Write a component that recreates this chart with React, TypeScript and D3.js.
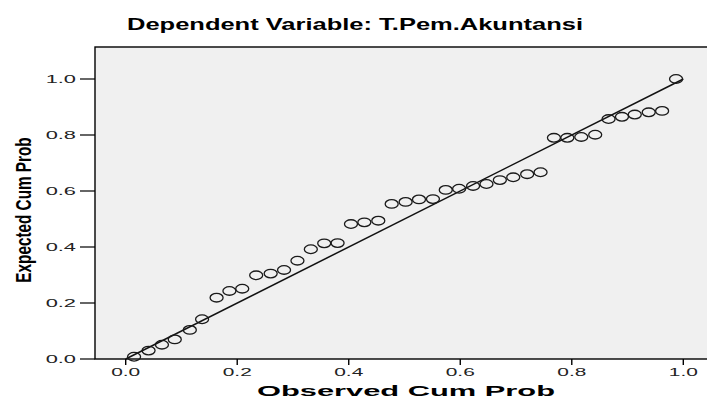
import { useRef, useEffect } from 'react';
import { select, scaleLinear } from 'd3';

// observed cum prob (x) and expected cum prob (y)
const observed = [0.015, 0.041, 0.065, 0.088, 0.115, 0.137, 0.163, 0.186, 0.209, 0.234,
    0.260, 0.284, 0.308, 0.332, 0.356, 0.380, 0.404, 0.428, 0.453, 0.477,
    0.502, 0.526, 0.551, 0.574, 0.598, 0.623, 0.647, 0.671, 0.695, 0.720,
    0.744, 0.768, 0.792, 0.817, 0.842, 0.866, 0.890, 0.913, 0.938, 0.962, 0.987];
const expected = [0.008, 0.030, 0.051, 0.070, 0.104, 0.142, 0.219, 0.243, 0.251, 0.299,
    0.305, 0.318, 0.351, 0.392, 0.413, 0.414, 0.482, 0.488, 0.494, 0.554,
    0.561, 0.570, 0.571, 0.604, 0.608, 0.618, 0.625, 0.639, 0.649, 0.660,
    0.667, 0.790, 0.790, 0.793, 0.801, 0.857, 0.865, 0.873, 0.881, 0.886, 1.0];
const ticks = [0, 0.2, 0.4, 0.6, 0.8, 1.0];
const tickLabels = ['0.0', '0.2', '0.4', '0.6', '0.8', '1.0'];
const title = 'Dependent Variable: T.Pem.Akuntansi';
const xTitle = 'Observed Cum Prob';
const yTitle = 'Expected Cum Prob';

const width = 707;
const height = 401;
const frame = { left: 95, top: 47, right: 712, bottom: 359 };
const font = '"Liberation Sans", Arial, sans-serif';
const sx = 1.9; // the picture is stretched sideways

const App = () => {
    const ref = useRef<SVGSVGElement>(null);

    useEffect(() => {
        if (!ref.current) return;
        const svg = select(ref.current);
        svg.selectAll('*').remove();

        const x = scaleLinear().domain([0, 1]).range([125.7, 683.3]);
        const y = scaleLinear().domain([0, 1]).range([359, 79]);

        svg.append('rect').attr('width', width).attr('height', height).attr('fill', '#fff');

        svg.append('rect')
            .attr('x', frame.left).attr('y', frame.top)
            .attr('width', frame.right - frame.left).attr('height', frame.bottom - frame.top)
            .attr('fill', '#f0f0f0').attr('stroke', '#000').attr('stroke-width', 1.4);

        // y ticks
        ticks.forEach((t, i) => {
            svg.append('line')
                .attr('x1', frame.left - 15).attr('x2', frame.left)
                .attr('y1', y(t)).attr('y2', y(t))
                .attr('stroke', '#000').attr('stroke-width', 1.2);
            svg.append('text')
                .attr('transform', `translate(${frame.left - 19},${y(t) + 4}) scale(${sx},1)`)
                .attr('text-anchor', 'end')
                .style('font-family', font).style('font-size', '11.5px').attr('fill', '#222')
                .text(tickLabels[i]);
        });

        // x ticks
        ticks.forEach((t, i) => {
            svg.append('line')
                .attr('x1', x(t)).attr('x2', x(t))
                .attr('y1', frame.bottom).attr('y2', frame.bottom + 6)
                .attr('stroke', '#000').attr('stroke-width', 1.4);
            svg.append('text')
                .attr('transform', `translate(${x(t)},${frame.bottom + 17}) scale(${sx},1)`)
                .attr('text-anchor', 'middle')
                .style('font-family', font).style('font-size', '11px').attr('fill', '#222')
                .text(tickLabels[i]);
        });

        // reference diagonal
        svg.append('line')
            .attr('x1', x(0)).attr('y1', y(0)).attr('x2', x(1)).attr('y2', y(1))
            .attr('stroke', '#111').attr('stroke-width', 1.5);

        svg.append('g').selectAll('ellipse')
            .data(observed)
            .enter()
            .append('ellipse')
            .attr('cx', d => x(d))
            .attr('cy', (d, i) => y(expected[i]))
            .attr('rx', 6.5).attr('ry', 4.3)
            .attr('fill', 'none').attr('stroke', '#1a1a1a').attr('stroke-width', 1.3);

        svg.append('text')
            .attr('x', 355).attr('y', 30)
            .attr('text-anchor', 'middle')
            .attr('textLength', 456).attr('lengthAdjust', 'spacingAndGlyphs')
            .style('font-family', font).style('font-size', '17px').style('font-weight', 'bold')
            .text(title);

        svg.append('text')
            .attr('x', 406).attr('y', 396)
            .attr('text-anchor', 'middle')
            .attr('textLength', 298).attr('lengthAdjust', 'spacingAndGlyphs')
            .style('font-family', font).style('font-size', '15.5px').style('font-weight', 'bold')
            .text(xTitle);

        svg.append('text')
            .attr('transform', `translate(31,210) scale(1.5,1) rotate(-90)`)
            .attr('text-anchor', 'middle')
            .style('font-family', font).style('font-size', '15.3px').style('font-weight', 'bold')
            .text(yTitle);
    }, []);

    return (
        <svg ref={ref} width={width} height={height}
            style={{ position: 'absolute', left: 0, top: 0, display: 'block' }} />
    );
};

export default App;
